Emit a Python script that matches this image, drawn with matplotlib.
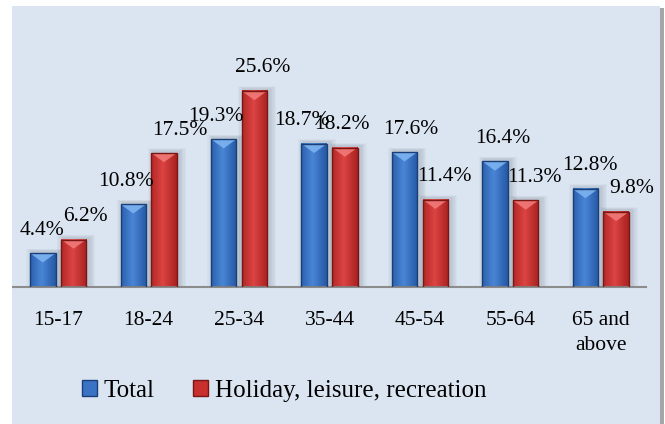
import numpy as np
import matplotlib.pyplot as plt
import matplotlib.colors as mc
from matplotlib.patches import Rectangle, Polygon, Patch

plt.rcParams['font.family'] = ['Liberation Serif', 'DejaVu Serif']

categories = ['15-17', '18-24', '25-34', '35-44', '45-54', '55-64', '65 and\nabove']
total = [4.4, 10.8, 19.3, 18.7, 17.6, 16.4, 12.8]
holiday = [6.2, 17.5, 25.6, 18.2, 11.4, 11.3, 9.8]
series_names = ['Total', 'Holiday, leisure, recreation']

# label nudges in pixels (the original labels are not quite centred)
blue_dx = [-1, -7, -8, -12, 6, 8, 5]
red_dx = [12, 16, 8, -3, 9, 9, 16]

W, H = 665, 424
fig = plt.figure(figsize=(W / 100, H / 100), dpi=100)
fig.patch.set_facecolor('white')

# panel background + right-hand shadow
fig.add_artist(Rectangle((660 / W, 0), 4 / W, (H - 8) / H, transform=fig.transFigure,
                         facecolor='#a6a6a6', edgecolor='none', zorder=0))
fig.add_artist(Rectangle((12 / W, 0), 648 / W, (H - 6) / H, transform=fig.transFigure,
                         facecolor='#dbe5f1', edgecolor='none', zorder=0))

ax = fig.add_axes([13 / W, 137 / H, 633 / W, (287 - 57.3) / H])
ax.set_facecolor('none')

width = 0.28
off = 0.17
x = np.arange(len(categories))

blue = dict(face=('#2458a3', '#4a86d6'), edge='#1a3f78', bevel='#7db3f0')
red = dict(face=('#a82220', '#dc4442'), edge='#7a1614', bevel='#f07a78')


def draw_bar(xc, h, st):
    x0, x1 = xc - width / 2, xc + width / 2
    # soft shadow, mostly round the top
    for k in range(5):
        g = 0.015 + k * 0.014
        ax.add_patch(Rectangle((x0 - g + 0.03, 0), width + 2 * g, h + 0.25 + g * 5,
                               facecolor='#1c2a3a', alpha=0.03, edgecolor='none', zorder=1))
    c0 = np.array(mc.to_rgb(st['face'][0]))
    c1 = np.array(mc.to_rgb(st['face'][1]))
    cols = []
    for t in np.linspace(0, 1, 60):
        w = 1 - abs(t - 0.45) / 0.55
        cols.append(c0 + (c1 - c0) * max(0, min(1, w)))
    img = np.array(cols)[None, :, :]
    ax.imshow(img, extent=(x0, x1, 0, h), aspect='auto', zorder=2, interpolation='bilinear')
    ax.add_patch(Polygon([(x0, h), (x1, h), (xc, h - 1.2)], closed=True,
                         facecolor=st['bevel'], edgecolor='none', alpha=0.9, zorder=3))
    ax.add_patch(Rectangle((x0, 0), width, h, facecolor='none', edgecolor=st['edge'],
                           lw=1.0, zorder=4))


for i in range(len(categories)):
    draw_bar(x[i] - off, total[i], blue)
    draw_bar(x[i] + off, holiday[i], red)
    ax.annotate(f'{total[i]}%', (x[i] - off, total[i]), xytext=(blue_dx[i] * 0.72, 23 * 0.72),
                textcoords='offset points', ha='center', va='center', fontsize=15.5, zorder=5)
    ax.annotate(f'{holiday[i]}%', (x[i] + off, holiday[i]), xytext=(red_dx[i] * 0.72, 23 * 0.72),
                textcoords='offset points', ha='center', va='center', fontsize=15.5, zorder=5)

ax.set_xlim(-0.5, len(categories) - 0.5)
ax.set_ylim(0, 30)
ax.set_xticks(x)
ax.set_xticklabels(categories, fontsize=15.5, linespacing=1.45, va='top')
ax.tick_params(axis='x', length=0, pad=17)
ax.set_yticks([])
for s in ['top', 'left', 'right']:
    ax.spines[s].set_visible(False)
ax.spines['bottom'].set_color('#8c8c8c')
ax.spines['bottom'].set_linewidth(1.5)

handles = [Patch(facecolor='#3a72c4', edgecolor='#1a3f78'),
           Patch(facecolor='#c8302e', edgecolor='#7a1614')]
fig.legend(handles, series_names, loc='center', bbox_to_anchor=(284 / W, 33 / H),
           ncol=2, frameon=False, fontsize=18, handlelength=0.6, handleheight=0.6,
           handletextpad=0.3, columnspacing=1.5)

fig.savefig('out.png', dpi=100)
